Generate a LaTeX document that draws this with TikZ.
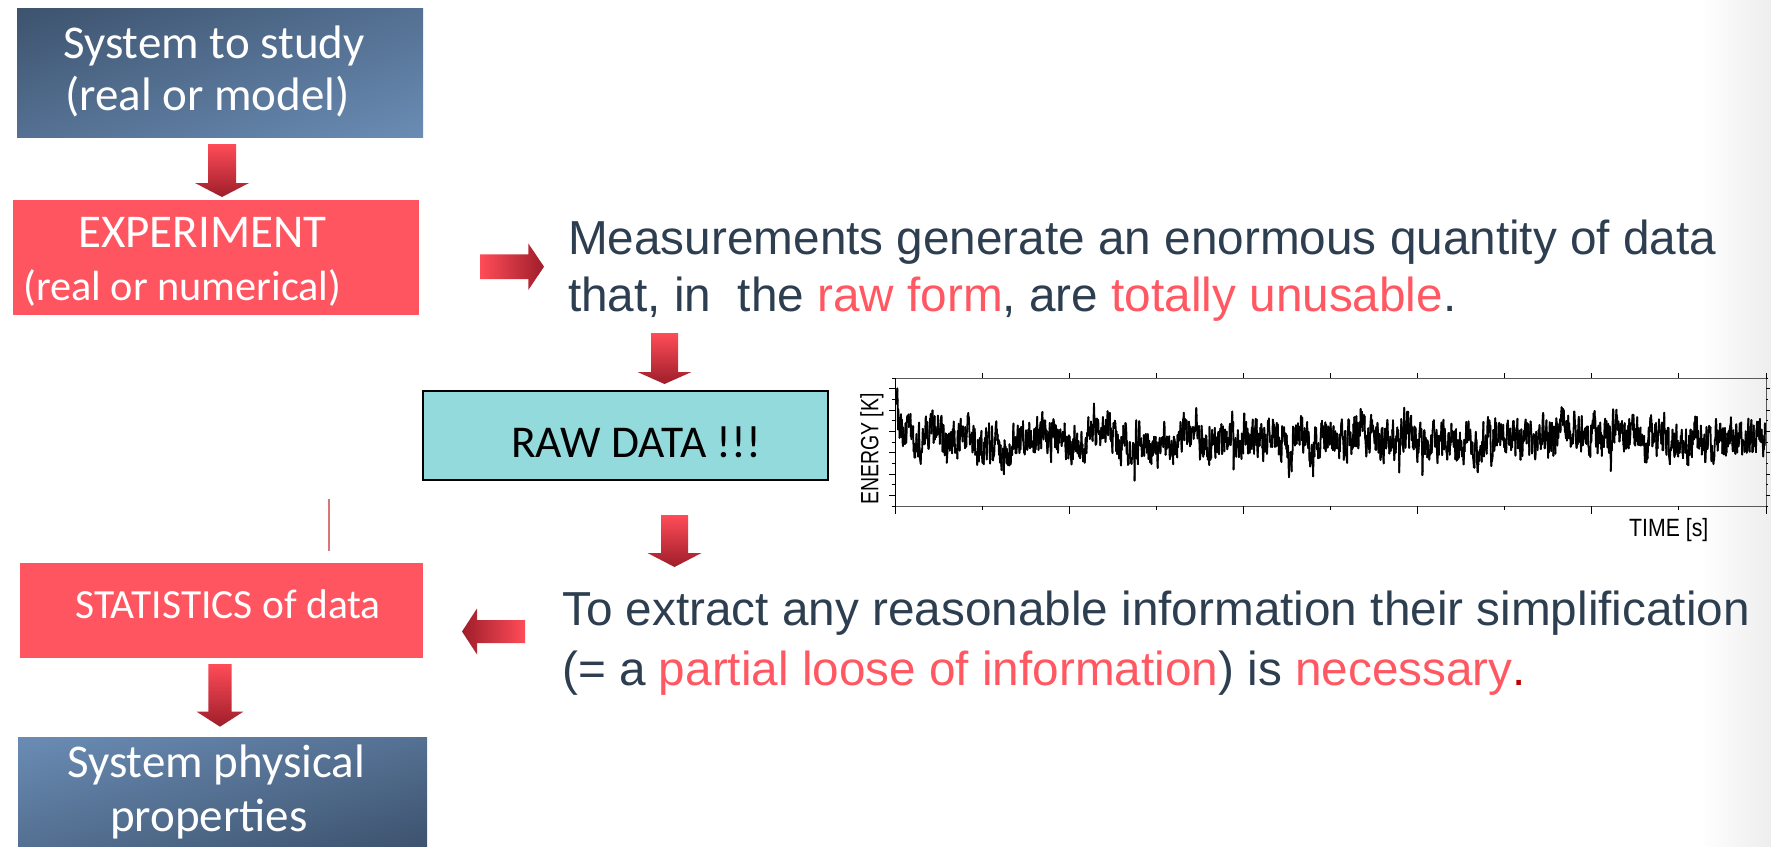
\documentclass[tikz,border=0pt]{standalone}
\usepackage{fontspec}
\usetikzlibrary{shadings}
\newfontfamily\bodyfont{Liberation Sans}
\newfontfamily\boxfont{Carlito}

\definecolor{boxred}{RGB}{255,85,96}
\definecolor{hired}{RGB}{255,88,98}
\definecolor{textdark}{RGB}{44,62,80}
\definecolor{perred}{RGB}{192,0,0}
\definecolor{rawfill}{RGB}{147,218,221}
\definecolor{blueD}{RGB}{61,83,110}
\definecolor{blueM}{RGB}{84,112,146}
\definecolor{blueL}{RGB}{106,140,180}
\definecolor{arlight}{RGB}{255,76,88}
\definecolor{ardark}{RGB}{158,30,42}
\definecolor{vline}{RGB}{214,120,120}

\tikzset{
  box/.style={rectangle, anchor=north west, inner sep=0pt, outer sep=0pt},
  redbox/.style={box, fill=boxred},
  bluebox/.style={box},
  rawbox/.style={box, fill=rawfill, draw=black, line width=1.8pt},
  boxtext/.style={anchor=base west, inner sep=0pt, text=white,
    font=\boxfont\fontsize{47}{52}\selectfont},
  bodytext/.style={anchor=base west, inner sep=0pt, text=textdark,
    font=\bodyfont\fontsize{47.7}{57}\selectfont},
  axislabel/.style={inner sep=0pt, text=black,
    font=\bodyfont\fontsize{25}{30}\selectfont},
  signal/.style={line width=1.8pt, line cap=round, black},
  plotframe/.style={draw=black!65, line width=1pt},
  tick/.style={black, line width=0.9pt},
  % block arrows: shaft half width, head half width, head start, tip
  pics/downarr/.style n args={4}{code={
    \shade[top color=arlight, bottom color=ardark]
      (-#1,0) -- (#1,0) -- (#1,#3) -- (#2,#3) -- (0,#4) -- (-#2,#3) -- (-#1,#3) -- cycle;}},
  pics/rightarr/.style n args={4}{code={
    \shade[left color=arlight, right color=ardark]
      (0,-#1) -- (#3,-#1) -- (#3,-#2) -- (#4,0) -- (#3,#2) -- (#3,#1) -- (0,#1) -- cycle;}},
  pics/leftarr/.style n args={4}{code={
    \shade[right color=arlight, left color=ardark]
      (0,-#1) -- (-#3,-#1) -- (-#3,-#2) -- (-#4,0) -- (-#3,#2) -- (-#3,#1) -- (0,#1) -- cycle;}},
}

\begin{document}
\begin{tikzpicture}[x=1pt,y=-1pt]
\useasboundingbox (0,0) rectangle (1771,846);
\fill[white] (0,0) rectangle (1771,846);
\shade[left color=white, right color=black!7] (1700,0) rectangle (1771,846);

% ---- left column boxes
\node[bluebox, minimum width=406, minimum height=129,
      upper left=blueD, upper right=blueM, lower left=blueM, lower right=blueL]
      (sys) at (17,8) {};
\node[boxtext] (sys1) at (63,58) {System to study};
\node[boxtext] (sys2) at (65,110) {(real or model)};

\node[redbox, minimum width=406, minimum height=115] (exp) at (13,200) {};
\node[boxtext] (exp1) at (78,247) {EXPERIMENT};
\node[boxtext, font=\boxfont\fontsize{42.3}{50}\selectfont] (exp2) at (23,300) {(real or numerical)};

\node[redbox, minimum width=403, minimum height=95] (stat) at (20,563) {};
\node[boxtext, font=\boxfont\fontsize{41.5}{50}\selectfont] (stat1) at (75,618) {STATISTICS of data};

\node[bluebox, minimum width=409, minimum height=109,
      upper left=blueL, upper right=blueM, lower left=blueM, lower right=blueD]
      (prop) at (18,737) {};
\node[boxtext] (prop1) at (67,777) {System physical};
\node[boxtext] (prop2) at (110,831) {properties};

% ---- raw data box
\node[rawbox, minimum width=405, minimum height=89] (raw) at (423,391) {};
\node[anchor=base west, inner sep=0pt, font=\boxfont\fontsize{45.5}{50}\selectfont]
      (raw1) at (511,457) {RAW DATA !!!};

% ---- explanatory text
\node[bodytext] (m1) at (568,254) {Measurements generate an enormous quantity of data};
\node[bodytext] (m2) at (568,311) {that, in~ the {\color{hired}raw form}, are {\color{hired}totally unusable}.};
\node[bodytext] (t1) at (562,625) {To extract any reasonable information their simplification};
\node[bodytext] (t2) at (562,685) {(= a {\color{hired}partial loose of information}) is {\color{hired}necessary}{\color{perred}.}};

% ---- block arrows
\pic (a1) at (222,144) {downarr={14}{27}{39}{53}};
\pic (a2) at (220,664) {downarr={11.7}{23.3}{47.7}{62.7}};
\pic (a3) at (664.5,333) {downarr={13.5}{27}{39}{51}};
\pic (a4) at (674.5,515) {downarr={13.5}{27}{38}{52}};
\pic (a5) at (480,266.7) {rightarr={12.3}{23.3}{48.3}{64}};
\pic (a6) at (525,631.5) {leftarr={11.5}{23}{48}{63}};

% ---- thin vertical mark
\coordinate (v1) at (329,499);
\coordinate (v2) at (329,551);
\draw[vline, line width=1.3pt] (v1) -- (v2);

% ---- energy trace: sum of a fast, a medium and a slow random component
\coordinate (pnw) at (895,378);
\coordinate (pse) at (1766,506);
\begin{scope}
\clip (pnw) rectangle (pse);
\pgfmathsetseed{4242}
\xdef\va{0}\xdef\vb{0}\xdef\vc{0}\xdef\lastx{895}\xdef\lasty{392}
\foreach \i in {1,...,2640}{%
  \pgfmathsetmacro\xx{895+0.33*\i}%
  \pgfmathsetmacro\na{0.45*\va+15*rand+26*(rnd<0.005)-16*(rnd<0.0035)}%
  \pgfmathsetmacro\nb{0.94*\vb+3.6*rand}%
  \pgfmathsetmacro\nc{0.996*\vc+0.45*rand}%
  \pgfmathsetmacro\yy{438+\na+\nb+\nc-46*exp(-min((\xx-895)/5,9))+38*max(0,1-abs(\xx-1290)/3)+32*max(0,1-abs(\xx-1312)/3)-12*max(0,1-abs(\xx-1300)/12)}%
  \draw[signal] (\lastx,\lasty) -- (\xx,\yy);%
  \xdef\va{\na}\xdef\vb{\nb}\xdef\vc{\nc}\xdef\lastx{\xx}\xdef\lasty{\yy}%
}
\end{scope}
\draw[plotframe] (pnw) rectangle (pse);
\draw[tick] (895,378) -- (895,506);
% horizontal-axis ticks
\foreach \k in {0,2,...,10}{\draw[tick] ({895+87.1*\k},506) -- ({895+87.1*\k},514);}
\foreach \k in {1,3,...,9}{\draw[tick] ({895+87.1*\k},506) -- ({895+87.1*\k},510);}
\foreach \k in {1,...,10}{\draw[tick] ({895+87.1*\k},378) -- ({895+87.1*\k},373);}
% vertical-axis ticks
\foreach \j in {1,3,...,11}{\draw[tick] (895,{378+10.667*\j}) -- (889,{378+10.667*\j});
  \draw[tick] (1766,{378+10.667*\j}) -- (1770,{378+10.667*\j});}
\foreach \j in {0,2,...,12}{\draw[tick] (895,{378+10.667*\j}) -- (892,{378+10.667*\j});
  \draw[tick] (1766,{378+10.667*\j}) -- (1768,{378+10.667*\j});}
\node[axislabel, rotate=90] (ylab) at (872,449) {\scalebox{0.78}[1]{ENERGY [K]}};
\node[axislabel, anchor=base west] (xlab) at (1629,536) {\scalebox{0.85}[1]{TIME [s]}};
\end{tikzpicture}
\end{document}
